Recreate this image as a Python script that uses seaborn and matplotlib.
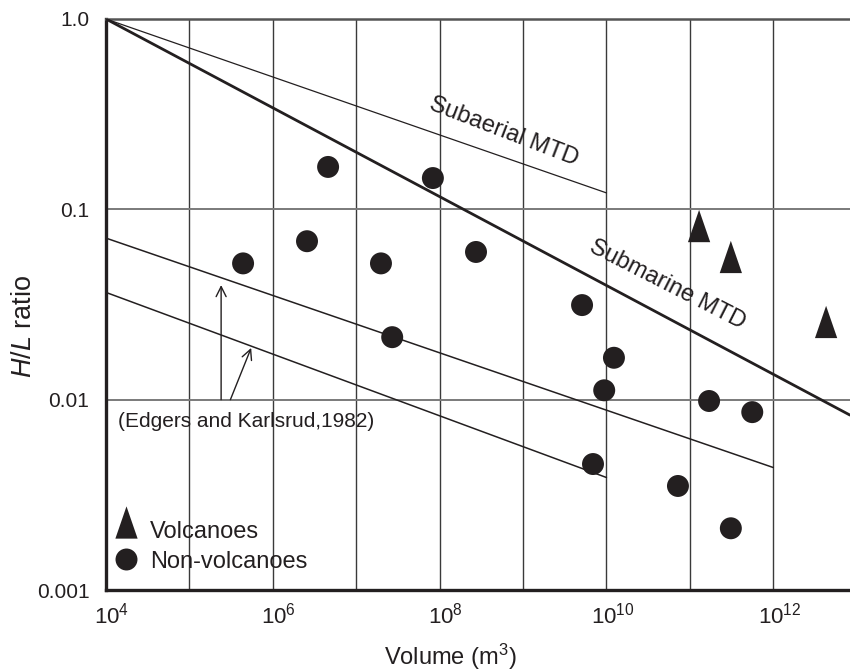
import numpy as np
import pandas as pd
import seaborn as sns
import matplotlib
matplotlib.use('Agg')
import matplotlib.pyplot as plt
import matplotlib.transforms as mtransforms
from matplotlib.ticker import FixedLocator, FixedFormatter, NullLocator

# non-volcanic landslides (volume m3, H/L)
nonvolc_volume = [4.4e5, 2.57e6, 4.6e6, 1.98e7, 2.7e7, 8.3e7, 2.73e8, 5.1e9,
                  1.23e10, 9.4e9, 6.9e9, 1.7e11, 5.6e11, 7.2e10, 3.1e11]
nonvolc_ratio = [0.052, 0.068, 0.167, 0.052, 0.0213, 0.146, 0.0597, 0.0314,
                 0.0166, 0.0112, 0.00459, 0.00984, 0.0086, 0.00352, 0.00211]

# volcanic landslides
volc_volume = [1.29e11, 3.1e11, 4.3e12]
volc_ratio = [0.0817, 0.0562, 0.0256]

# trend lines (end points, straight in log-log)
subaerial_x = [1e4, 1e10]
subaerial_y = [1.0, 0.122]
submarine_x = [1e4, 8.3e12]
submarine_y = [1.0, 0.0083]
edgers_upper_x = [1e4, 1e12]
edgers_upper_y = [0.0706, 0.0044]
edgers_lower_x = [1e4, 1e10]
edgers_lower_y = [0.0366, 0.0039]

y_ticks = [0.001, 0.01, 0.1, 1.0]
y_labels = ['0.001', '0.01', '0.1', '1.0']
x_decades = list(range(4, 14))

ink = '#231f20'

sns.set_style('white')
plt.rcParams['font.family'] = ['Liberation Sans', 'DejaVu Sans']
plt.rcParams['mathtext.fontset'] = 'custom'
plt.rcParams['mathtext.rm'] = 'Liberation Sans'
plt.rcParams['mathtext.it'] = 'Liberation Sans:italic'

fig = plt.figure(figsize=(8.5, 6.72), dpi=100)
ax = fig.add_axes([106 / 850, 82 / 672, 744 / 850, 571 / 672])
ax.set_xscale('log')
ax.set_yscale('log')
ax.set_xlim(1e4, 10 ** 12.92)
ax.set_ylim(0.001, 1.0)

# grid
for d in x_decades[1:]:
    ax.axvline(10.0 ** d, color='#3a3a3a', lw=1.0, zorder=1)
for v in [0.01, 0.1]:
    ax.axhline(v, color='#7a7a7a', lw=1.4, zorder=1)

# lines
sns.lineplot(x=subaerial_x, y=subaerial_y, ax=ax, color=ink, lw=0.9, zorder=3)
sns.lineplot(x=submarine_x, y=submarine_y, ax=ax, color=ink, lw=2.0, zorder=3)
sns.lineplot(x=edgers_upper_x, y=edgers_upper_y, ax=ax, color=ink, lw=1.1, zorder=3)
sns.lineplot(x=edgers_lower_x, y=edgers_lower_y, ax=ax, color=ink, lw=1.1, zorder=3)

# points
tri = [(-0.69, -1.0), (0.69, -1.0), (0.0, 1.0)]
df_v = pd.DataFrame({'volume': volc_volume, 'ratio': volc_ratio})
df_n = pd.DataFrame({'volume': nonvolc_volume, 'ratio': nonvolc_ratio})
sns.scatterplot(data=df_v, x='volume', y='ratio', ax=ax, marker=tri, s=540,
                color=ink, edgecolor='none', zorder=4, legend=False)
sns.scatterplot(data=df_n, x='volume', y='ratio', ax=ax, marker='o', s=250,
                color=ink, edgecolor='none', zorder=4, legend=False)

# annotations
ax.text(10 ** 4.14, 0.00766, '(Edgers and Karlsrud,1982)', fontsize=15,
        color=ink, ha='left', va='center')
ax.annotate('', xy=(2.4e5, 0.040), xytext=(2.4e5, 0.01),
            arrowprops=dict(arrowstyle='->', lw=1.0, color=ink,
                            shrinkA=0, shrinkB=0, mutation_scale=18))
ax.annotate('', xy=(5.5e5, 0.0187), xytext=(3.1e5, 0.01),
            arrowprops=dict(arrowstyle='->', lw=1.0, color=ink,
                            shrinkA=0, shrinkB=0, mutation_scale=18))
ax.text(10 ** 8.77, 0.255, 'Subaerial MTD', fontsize=17, color=ink,
        rotation=-21, rotation_mode='anchor', ha='center', va='center')
ax.text(10 ** 10.73, 0.040, 'Submarine MTD', fontsize=17, color=ink,
        rotation=-27, rotation_mode='anchor', ha='center', va='center')

# legend drawn in axes coordinates
ax.scatter([0.0269], [0.1183], marker=tri, s=540, color=ink, lw=0,
           transform=ax.transAxes, clip_on=False, zorder=5)
ax.scatter([0.0269], [0.0543], marker='o', s=250, color=ink, lw=0,
           transform=ax.transAxes, clip_on=False, zorder=5)
ax.text(0.0591, 0.0911, 'Volcanoes', fontsize=17, color=ink,
        transform=ax.transAxes, va='baseline', ha='left')
ax.text(0.0591, 0.0385, 'Non-volcanoes', fontsize=17, color=ink,
        transform=ax.transAxes, va='baseline', ha='left')

# axes styling
ax.xaxis.set_major_locator(FixedLocator([10.0 ** d for d in x_decades]))
ax.xaxis.set_major_formatter(FixedFormatter(
    [r'$\mathregular{10^{%d}}$' % d if d % 2 == 0 else '' for d in x_decades]))
ax.xaxis.set_minor_locator(NullLocator())
ax.yaxis.set_major_locator(FixedLocator(y_ticks))
ax.yaxis.set_major_formatter(FixedFormatter(y_labels))
ax.yaxis.set_minor_locator(NullLocator())
ax.tick_params(axis='x', length=0, pad=9, labelsize=16, colors=ink)
ax.tick_params(axis='y', length=0, pad=12, labelsize=15, colors=ink)
shift = mtransforms.ScaledTranslation(6 / 100, 0, fig.dpi_scale_trans)
for lab in ax.get_xticklabels():
    lab.set_transform(lab.get_transform() + shift)

ax.set_xlabel(r'Volume (m$^3$)', fontsize=17, color=ink)
ax.set_ylabel(r'$\mathit{H/L}$ ratio', fontsize=19.5, color=ink)
ax.xaxis.set_label_coords(0.463, -0.117)
ax.xaxis.label.set_va('center')
ax.yaxis.set_label_coords(-0.110, 0.462)
ax.yaxis.label.set_va('center')

for side in ['left', 'bottom']:
    ax.spines[side].set_linewidth(2.4)
    ax.spines[side].set_color(ink)
ax.spines['top'].set_linewidth(1.8)
ax.spines['top'].set_color('#555555')
ax.spines['right'].set_visible(False)

fig.savefig('out.png', dpi=100)
